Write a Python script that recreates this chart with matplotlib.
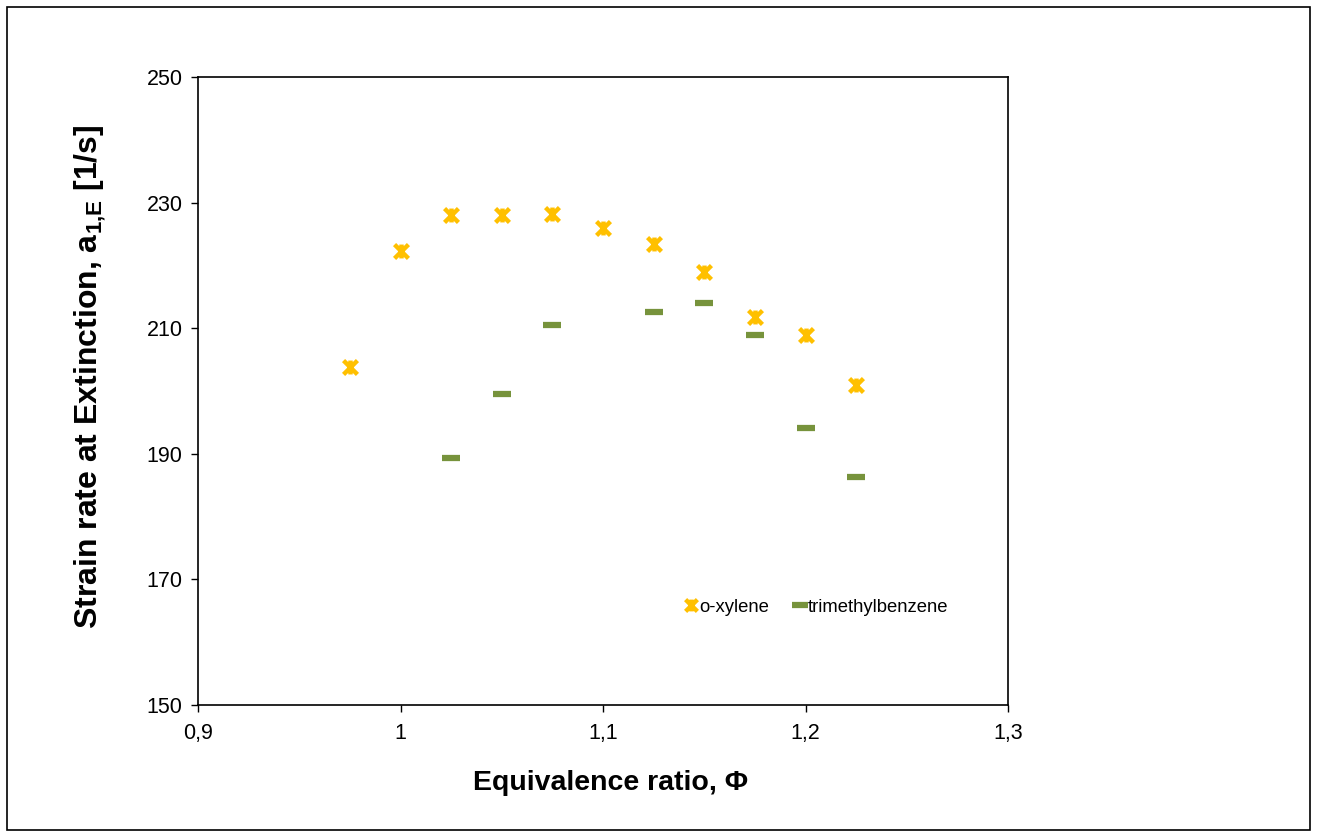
import matplotlib
matplotlib.use("Agg")
import matplotlib.pyplot as plt
from matplotlib.patches import Rectangle
from matplotlib.path import Path
from matplotlib.ticker import FuncFormatter

plt.rcParams['font.family'] = ['Liberation Sans', 'DejaVu Sans']
plt.rcParams['mathtext.fontset'] = 'custom'
plt.rcParams['mathtext.bf'] = 'Liberation Sans:bold'
plt.rcParams['mathtext.rm'] = 'Liberation Sans:bold'
plt.rcParams['mathtext.default'] = 'bf'

phi_oxylene = [0.975, 1.0, 1.025, 1.05, 1.075, 1.1, 1.125, 1.15, 1.175, 1.2, 1.225]
a_oxylene = [203.8, 222.3, 228.0, 228.0, 228.2, 226.0, 223.4, 218.9, 211.8, 208.9, 201.0]

phi_tmb = [1.025, 1.05, 1.075, 1.125, 1.15, 1.175, 1.2, 1.225]
a_tmb = [189.3, 199.5, 210.5, 212.6, 214.0, 208.9, 194.1, 186.3]

x_ticks = [0.9, 1.0, 1.1, 1.2, 1.3]
y_ticks = [150, 170, 190, 210, 230, 250]

star = Path([(-1, -1), (1, 1), (-1, 1), (1, -1), (0, -1), (0, 1)],
            [Path.MOVETO, Path.LINETO, Path.MOVETO, Path.LINETO, Path.MOVETO, Path.LINETO])

fig = plt.figure(figsize=(13.18, 8.39), dpi=100)
fig.patches.append(Rectangle((7/1318, 9/839), 1303/1318, 823/839, transform=fig.transFigure,
                             fill=False, edgecolor='black', linewidth=1.2))
ax = fig.add_axes([198/1318, 1-705/839, 810/1318, 628/839])

ax.plot(phi_oxylene, a_oxylene, linestyle='none', marker=star, markersize=10,
        markeredgewidth=3.2, color='#FFC000', label='o-xylene')
ax.plot(phi_tmb, a_tmb, linestyle='none', marker='_', markersize=13,
        markeredgewidth=4.5, color='#77933C', label='trimethylbenzene')

ax.set_xlim(0.9, 1.3)
ax.set_ylim(150, 250)
ax.set_xticks(x_ticks)
ax.set_yticks(y_ticks)
ax.xaxis.set_major_formatter(FuncFormatter(lambda v, p: ('%g' % v).replace('.', ',')))
ax.tick_params(direction='out', length=5, width=1, labelsize=15.5, top=False, right=False, pad=6)
ax.tick_params(axis='x', pad=8)
for s in ax.spines.values():
    s.set_linewidth(1.2)

ax.set_xlabel('Equivalence ratio, Φ', fontsize=20.5, fontweight='bold')
ax.xaxis.set_label_coords(0.509, -0.103)
ax.set_ylabel(r'Strain rate at Extinction, a$_{1{,}E}$ [1/s]', fontsize=23,
              fontweight='bold')
ax.yaxis.set_label_coords(-0.111, 0.522)

leg = ax.legend(loc='center left', bbox_to_anchor=(0.58, 0.156), ncol=2, frameon=False,
                fontsize=13.3, handlelength=0.7, handletextpad=0.1, columnspacing=1.3,
                markerscale=0.85)
fig.savefig('out.png', dpi=100)
